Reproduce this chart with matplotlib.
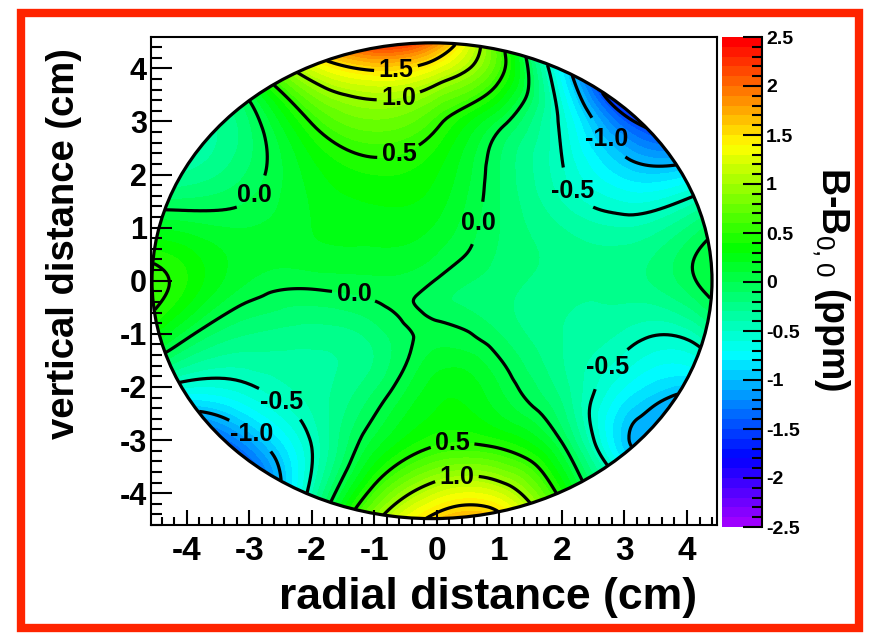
"""
Feldkarte B - B0,0 im Querschnitt (Konturplot, ROOT-Stil nachgebaut)
"""

import numpy as np
import matplotlib.pyplot as plt
import matplotlib.tri as mtri
from matplotlib.colors import ListedColormap, hsv_to_rgb
from matplotlib.patches import Circle, Rectangle
from matplotlib.ticker import MultipleLocator, FormatStrFormatter

# Stuetzstellen im 1-cm-Raster (None = ausserhalb / am Rand)
grid_x = [-4, -3, -2, -1, 0, 1, 2, 3, 4]
grid_y = [4, 3, 2, 1, 0, -1, -2, -3, -4]
grid_b = [
    [None, None, None, 1.55, 1.3, 0.6, None, None, None],            # y = 4
    [None, -0.1, 0.52, 0.78, 0.55, 0.07, -0.55, -1.4, None],         # y = 3
    [None, -0.08, 0.25, 0.4, 0.3, -0.1, -0.48, -0.84, None],         # y = 2
    [0.15, 0.1, 0.2, 0.25, 0.18, -0.1, -0.3, -0.4, -0.2],            # y = 1
    [0.4, 0.1, 0.05, 0.08, -0.01, -0.15, -0.25, -0.25, -0.05],       # y = 0
    [0.05, -0.2, -0.25, -0.15, 0.05, -0.1, -0.3, -0.42, -0.45],      # y = -1
    [None, -0.52, -0.35, -0.12, 0.25, 0.1, -0.25, -0.7, None],       # y = -2
    [None, -1.1, -0.48, 0.12, 0.45, 0.4, -0.02, -0.95, None],        # y = -3
    [None, None, None, 0.6, 1.2, 1.2, None, None, None],             # y = -4
]

# Werte am Rand des Messkreises, Winkel 0..350 Grad in 10er Schritten
edge_cx, edge_cy, edge_r = -0.08, 0.0, 4.48
edge_deg = list(range(0, 360, 10))
edge_b = [0.08, 0.0, -0.45, -1.05, -1.5, -1.6, -1.0, -0.05, 1.0, 1.95,
          2.2, 1.65, 0.9, 0.05, -0.3, -0.35, -0.1, 0.3, 0.58, 0.4,
          -0.15, -0.8, -1.3, -1.35, -0.8, 0.12, 1.0, 1.55, 1.65, 1.05,
          0.2, -0.6, -1.1, -1.05, -0.65, -0.2]

# Punkte um den Sattel in der Mitte
extra_x = [-0.4, 0.0, -0.7, -0.2]
extra_y = [-0.68, -0.55, -0.25, -1.1]
extra_b = [0.02, -0.05, 0.04, 0.04]

line_levels = [-1.5, -1.0, -0.5, 0.0, 0.5, 1.0, 1.5]
label_pos = [(-0.65, 3.93), (-0.6, 3.37), (-0.64, 2.5), (-2.97, 1.67),
             (2.65, 2.6), (2.3, 1.8), (0.48, 1.13), (-1.34, -0.33),
             (-2.46, -2.23), (-2.94, -2.84), (2.8, -1.7), (0.24, -2.98),
             (0.32, -3.76)]

RED = "#ff2400"


def main():
    plt.rcParams["font.family"] = "Liberation Sans"
    plt.rcParams["axes.unicode_minus"] = False
    plt.rcParams["mathtext.fontset"] = "custom"
    plt.rcParams["mathtext.rm"] = "Liberation Sans"
    plt.rcParams["mathtext.default"] = "rm"
    plt.rcParams["contour.negative_linestyle"] = "solid"

    # Punkte sammeln
    xs, ys, bs = [], [], []
    for row, yv in zip(grid_b, grid_y):
        for val, xv in zip(row, grid_x):
            if val is not None:
                xs.append(xv)
                ys.append(yv)
                bs.append(val)
    phi = np.deg2rad(edge_deg)
    xs += list(edge_cx + edge_r * np.cos(phi))
    ys += list(edge_cy + edge_r * np.sin(phi))
    bs += edge_b
    xs += extra_x
    ys += extra_y
    bs += extra_b

    tri = mtri.Triangulation(xs, ys)
    interp = mtri.CubicTriInterpolator(tri, bs, kind="min_E")
    tri_f, b_f = mtri.UniformTriRefiner(tri).refine_field(bs, interp, subdiv=4)

    # ROOT Palette 1: violett -> rot, 50 Farben
    hues = np.linspace(0.77, 0.0, 50)
    cmap = ListedColormap(hsv_to_rgb(np.column_stack([hues, np.ones(50), np.ones(50)])))

    fig = plt.figure(figsize=(8.69, 6.36), dpi=100)
    W, H = 869, 636
    ax = fig.add_axes([151 / W, 1 - 525 / H, 566 / W, 488 / H])
    cax = fig.add_axes([722 / W, 1 - 527 / H, 40 / W, 490 / H])

    cf = ax.tricontourf(tri_f, b_f, levels=np.linspace(-2.5, 2.5, 51), cmap=cmap,
                        vmin=-2.5, vmax=2.5)
    cs = ax.tricontour(tri_f, b_f, levels=line_levels, colors="k", linewidths=2.3)
    labels = ax.clabel(cs, fmt="%.1f", manual=label_pos, inline=True,
                       inline_spacing=5, fontsize=18)
    for t in labels:
        t.set_rotation(0)
        t.set_fontweight("bold")
    ax.add_patch(Circle((edge_cx, edge_cy), edge_r, fill=False, ec="k", lw=2.3,
                        clip_on=False))

    ax.set_xlim(-4.576, 4.48)
    ax.set_ylim(-4.6, 4.59)
    ax.set_xticks(range(-4, 5))
    ax.set_yticks(range(-4, 5))
    ax.xaxis.set_minor_locator(MultipleLocator(0.2))
    ax.yaxis.set_minor_locator(MultipleLocator(0.2))
    ax.tick_params(which="both", direction="in", top=False, right=False, width=1.5)
    ax.tick_params(axis="y", which="major", length=15, pad=3, labelsize=22)
    ax.tick_params(axis="y", which="minor", length=8)
    ax.tick_params(axis="x", which="major", length=11, pad=8, labelsize=24)
    ax.tick_params(axis="x", which="minor", length=6)
    for lab in ax.get_xticklabels() + ax.get_yticklabels():
        lab.set_fontweight("bold")
    for sp in ax.spines.values():
        sp.set_linewidth(1.5)
        sp.set_zorder(5)

    fig.text(488 / W, 1 - 597 / H, "radial distance (cm)", ha="center", va="center",
             fontsize=32, fontweight="bold")
    fig.text(64 / W, 1 - 244 / H, "vertical distance (cm)", ha="center", va="center",
             rotation=90, fontsize=27.5, fontweight="bold")

    # Farbskala
    cb = fig.colorbar(cf, cax=cax, ticks=np.arange(-2.5, 2.51, 0.5))
    cb.outline.set_visible(False)
    cax.plot([1, 1], [0, 1], transform=cax.transAxes, color="k", lw=1.5, clip_on=False)
    cax.yaxis.set_minor_locator(MultipleLocator(0.1))
    cax.yaxis.set_major_formatter(FormatStrFormatter("%g"))
    cax.tick_params(which="both", direction="in", right=True, width=1.5, colors="k")
    cax.tick_params(which="major", length=14, pad=3, labelsize=14)
    cax.tick_params(which="minor", length=7)
    for lab in cax.get_yticklabels():
        lab.set_fontweight("bold")
    fig.text(831 / W, 1 - 279 / H, "B-B$_{0,0}$ (ppm)", ha="center", va="center",
             rotation=270, fontsize=27, fontweight="bold")

    # roter Rahmen
    fig.patches.append(Rectangle((21 / W, 1 - 628 / H), 838 / W, 615 / H,
                                 transform=fig.transFigure, fill=False, ec=RED, lw=6))

    fig.savefig("out.png", dpi=100)


if __name__ == "__main__":
    main()
